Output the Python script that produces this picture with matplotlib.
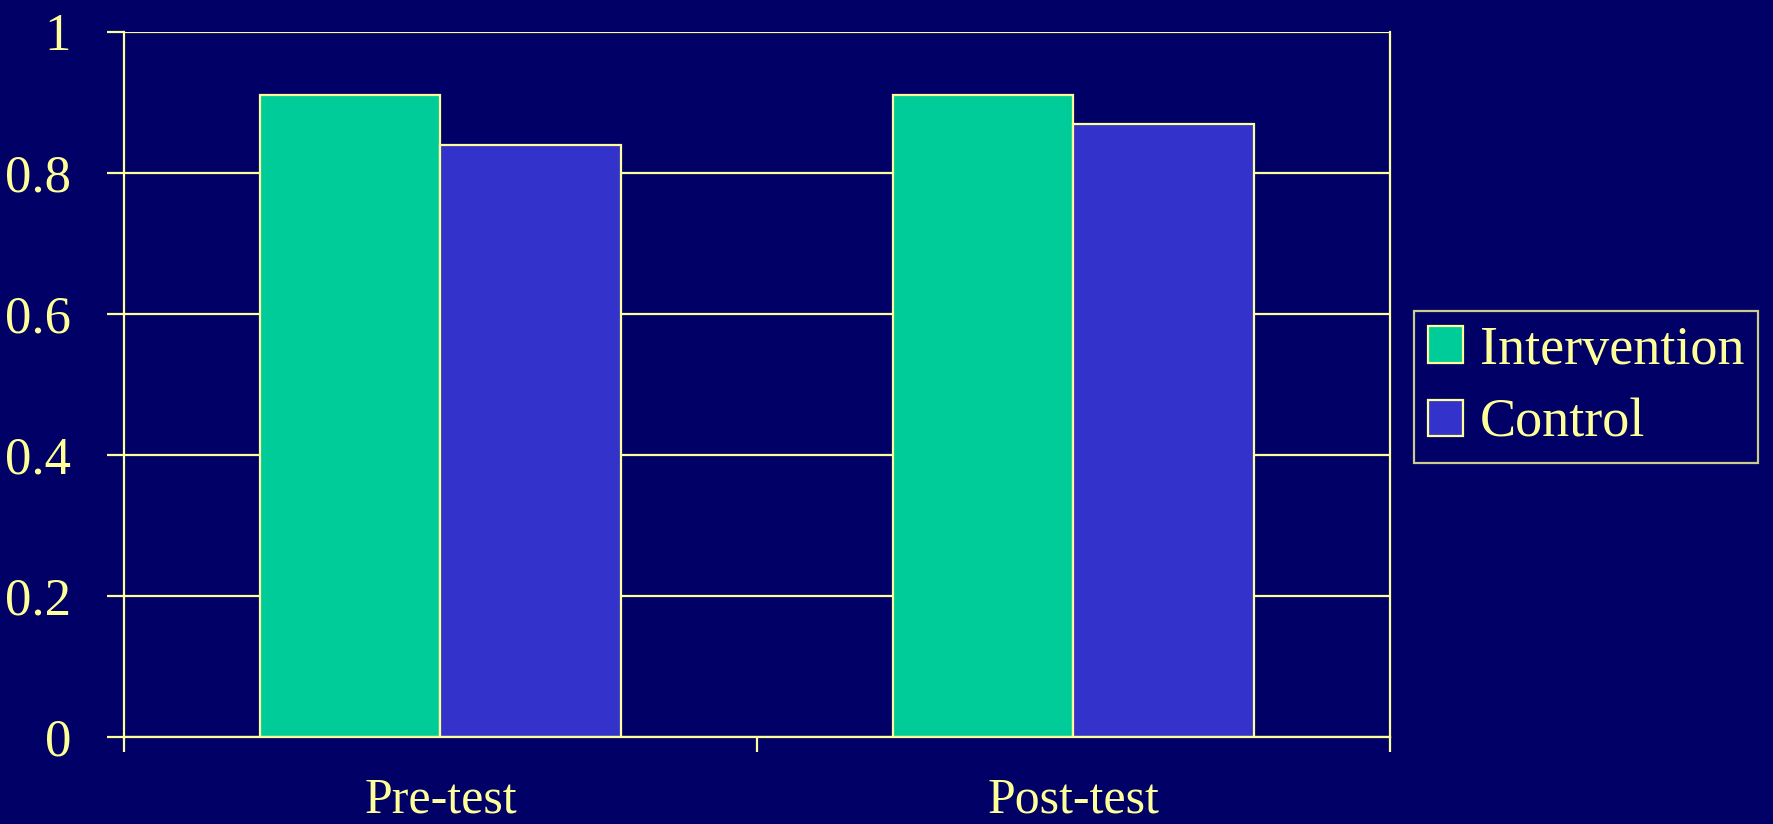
import matplotlib
matplotlib.use('Agg')
import matplotlib.pyplot as plt
import numpy as np

# chart data
categories = ['Pre-test', 'Post-test']
series_names = ['Intervention', 'Control']
intervention = [0.91, 0.91]
control = [0.84, 0.87]
y_ticks = [0, 0.2, 0.4, 0.6, 0.8, 1]
y_tick_labels = ['0', '0.2', '0.4', '0.6', '0.8', '1']

bg = '#000066'
fg = '#FFFF99'
colors = ['#00CC99', '#3333CC']

plt.rcParams['font.family'] = ['Liberation Serif', 'DejaVu Serif']

fig = plt.figure(figsize=(17.73, 8.24), dpi=100, facecolor=bg)
ax = fig.add_axes([0.0699, 0.1056, 0.714, 0.8556], facecolor=bg)

x = np.arange(len(categories))
width = 0.285

# grid lines behind the bars
ax.set_axisbelow(True)
ax.yaxis.grid(True, color=fg, linewidth=1.6)

ax.bar(x - width / 2, intervention, width, color=colors[0],
       edgecolor=fg, linewidth=1.6, label=series_names[0])
ax.bar(x + width / 2, control, width, color=colors[1],
       edgecolor=fg, linewidth=1.6, label=series_names[1])

ax.set_xlim(-0.5, len(categories) - 0.5)
ax.set_ylim(0, 1)

# y axis
ax.set_yticks(y_ticks)
ax.set_yticklabels(y_tick_labels)
ax.tick_params(axis='y', direction='out', length=12, width=1.6,
               color=fg, labelcolor=fg, labelsize=38, pad=26)

# x axis: ticks at category boundaries, labels at centres
ax.set_xticks(np.arange(-0.5, len(categories), 1.0))
ax.set_xticklabels([])
ax.set_xticks(x, minor=True)
ax.set_xticklabels(categories, minor=True)
ax.tick_params(axis='x', which='major', direction='out', length=11,
               width=1.6, color=fg)
ax.tick_params(axis='x', which='minor', length=0, labelcolor=fg,
               labelsize=36, pad=29)

for side in ['left', 'right', 'bottom']:
    ax.spines[side].set_color(fg)
    ax.spines[side].set_linewidth(1.6)
ax.spines['top'].set_visible(False)

# legend outside on the right
leg = fig.legend(loc='upper left', bbox_to_anchor=(1414 / 1773, 1 - 311 / 824),
                 fontsize=39, frameon=True, fancybox=False,
                 handlelength=0.65, handleheight=0.65, handletextpad=0.3,
                 labelspacing=0.42, borderpad=0.26, borderaxespad=0)
leg.get_frame().set_facecolor(bg)
leg.get_frame().set_edgecolor(fg)
leg.get_frame().set_linewidth(1.6)
for text in leg.get_texts():
    text.set_color(fg)

fig.savefig('out.png', dpi=100, facecolor=bg)
